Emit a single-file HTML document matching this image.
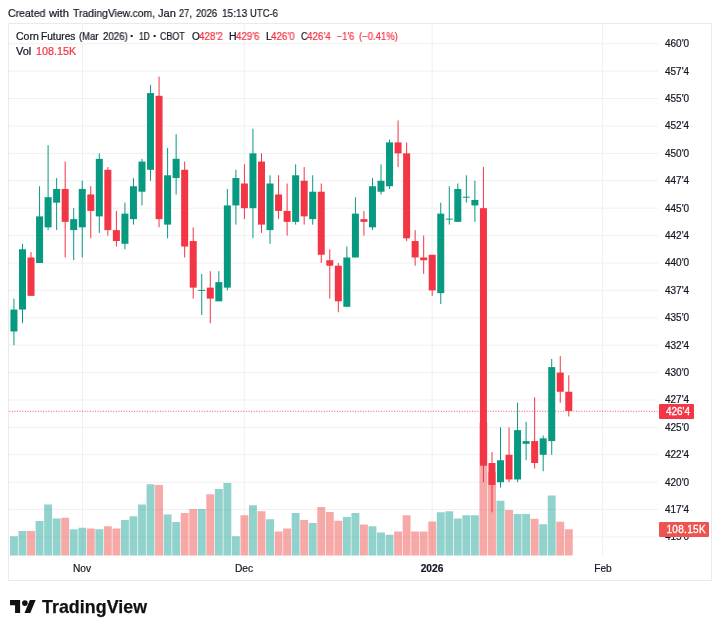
<!DOCTYPE html>
<html><head><meta charset="utf-8"><title>Corn Futures</title>
<style>
html,body{margin:0;padding:0;background:#fff;}
body{width:720px;height:633px;position:relative;overflow:hidden;font-family:"Liberation Sans",sans-serif;color:#131722;}
#hdr,.lg,.pl,.tl,.tag,#logot{will-change:transform;}
#hdr{position:absolute;left:8.3px;top:6px;font-size:11px;line-height:14px;white-space:nowrap;letter-spacing:-0.285px;color:#131722;}
#frame{position:absolute;left:8px;top:22.7px;width:704px;height:558px;border:1px solid #e9eaef;box-sizing:border-box;}
#chart{position:absolute;left:0;top:0;width:720px;height:633px;}
.sg{-webkit-text-stroke:0.22px currentColor;transform-origin:0 0;position:absolute;font-size:10px;line-height:13px;white-space:nowrap;color:#131722;will-change:transform;}
.sg.r{color:#F23645;}
.pl{-webkit-text-stroke:0.2px currentColor;position:absolute;left:665px;font-size:10px;line-height:14px;height:14px;white-space:nowrap;color:#131722;}
.tl{-webkit-text-stroke:0.2px currentColor;position:absolute;top:561.6px;font-size:10.2px;line-height:14px;white-space:nowrap;color:#131722;transform:translateX(-50%);}
.tag{position:absolute;left:658.9px;color:#fff;font-size:10px;line-height:15.6px;height:14.7px;padding-left:6.9px;-webkit-text-stroke:0.3px #fff;box-sizing:border-box;white-space:nowrap;border-radius:1px;}
#logo{position:absolute;left:10.2px;top:599.5px;}
#logot{position:absolute;left:42.1px;top:595.65px;font-size:17.8px;font-weight:bold;line-height:22px;letter-spacing:0.06px;color:#111;-webkit-text-stroke:0.25px #111;white-space:nowrap;}
</style></head><body>
<span class="sg" style="left:8.35px;top:6px;transform:scaleX(0.9568);font-size:11px;line-height:14px">Created</span>
<span class="sg" style="left:49.20px;top:6px;transform:scaleX(1.0198);font-size:11px;line-height:14px">with</span>
<span class="sg" style="left:72.50px;top:6px;transform:scaleX(0.9455);font-size:11px;line-height:14px">TradingView.com,</span>
<span class="sg" style="left:157.90px;top:6px;transform:scaleX(1.0085);font-size:11px;line-height:14px">Jan</span>
<span class="sg" style="left:179.20px;top:6px;transform:scaleX(0.8433);font-size:11px;line-height:14px">27,</span>
<span class="sg" style="left:196.30px;top:6px;transform:scaleX(0.8659);font-size:11px;line-height:14px">2026</span>
<span class="sg" style="left:221.50px;top:6px;transform:scaleX(0.9135);font-size:11px;line-height:14px">15:13</span>
<span class="sg" style="left:250.00px;top:6px;transform:scaleX(0.8614);font-size:11px;line-height:14px">UTC-6</span>
<div id="frame"></div>
<svg id="chart" width="720" height="633" viewBox="0 0 720 633" shape-rendering="auto">
<line x1="9" x2="658" y1="43.75" y2="43.75" stroke="#f0f0f2" stroke-width="1"/>
<line x1="9" x2="658" y1="71.15" y2="71.15" stroke="#f0f0f2" stroke-width="1"/>
<line x1="9" x2="658" y1="98.56" y2="98.56" stroke="#f0f0f2" stroke-width="1"/>
<line x1="9" x2="658" y1="125.96" y2="125.96" stroke="#f0f0f2" stroke-width="1"/>
<line x1="9" x2="658" y1="153.36" y2="153.36" stroke="#f0f0f2" stroke-width="1"/>
<line x1="9" x2="658" y1="180.76" y2="180.76" stroke="#f0f0f2" stroke-width="1"/>
<line x1="9" x2="658" y1="208.16" y2="208.16" stroke="#f0f0f2" stroke-width="1"/>
<line x1="9" x2="658" y1="235.57" y2="235.57" stroke="#f0f0f2" stroke-width="1"/>
<line x1="9" x2="658" y1="262.97" y2="262.97" stroke="#f0f0f2" stroke-width="1"/>
<line x1="9" x2="658" y1="290.37" y2="290.37" stroke="#f0f0f2" stroke-width="1"/>
<line x1="9" x2="658" y1="317.78" y2="317.78" stroke="#f0f0f2" stroke-width="1"/>
<line x1="9" x2="658" y1="345.18" y2="345.18" stroke="#f0f0f2" stroke-width="1"/>
<line x1="9" x2="658" y1="372.58" y2="372.58" stroke="#f0f0f2" stroke-width="1"/>
<line x1="9" x2="658" y1="399.98" y2="399.98" stroke="#f0f0f2" stroke-width="1"/>
<line x1="9" x2="658" y1="427.38" y2="427.38" stroke="#f0f0f2" stroke-width="1"/>
<line x1="9" x2="658" y1="454.79" y2="454.79" stroke="#f0f0f2" stroke-width="1"/>
<line x1="9" x2="658" y1="482.19" y2="482.19" stroke="#f0f0f2" stroke-width="1"/>
<line x1="9" x2="658" y1="509.59" y2="509.59" stroke="#f0f0f2" stroke-width="1"/>
<line x1="9" x2="658" y1="537.00" y2="537.00" stroke="#f0f0f2" stroke-width="1"/>
<line x1="82.50" x2="82.50" y1="23.5" y2="555.5" stroke="#f0f0f2" stroke-width="1"/>
<line x1="244.30" x2="244.30" y1="23.5" y2="555.5" stroke="#f0f0f2" stroke-width="1"/>
<line x1="432.10" x2="432.10" y1="23.5" y2="555.5" stroke="#f0f0f2" stroke-width="1"/>
<line x1="602.60" x2="602.60" y1="23.5" y2="555.5" stroke="#f0f0f2" stroke-width="1"/>
<rect x="10.00" y="536.25" width="7.9" height="19.25" fill="rgba(38,166,154,0.5)"/>
<rect x="18.54" y="531.00" width="7.9" height="24.50" fill="rgba(38,166,154,0.5)"/>
<rect x="27.07" y="531.00" width="7.9" height="24.50" fill="rgba(239,83,80,0.5)"/>
<rect x="35.61" y="521.00" width="7.9" height="34.50" fill="rgba(38,166,154,0.5)"/>
<rect x="44.14" y="504.50" width="7.9" height="51.00" fill="rgba(38,166,154,0.5)"/>
<rect x="52.68" y="518.50" width="7.9" height="37.00" fill="rgba(38,166,154,0.5)"/>
<rect x="61.22" y="517.75" width="7.9" height="37.75" fill="rgba(239,83,80,0.5)"/>
<rect x="69.75" y="529.25" width="7.9" height="26.25" fill="rgba(38,166,154,0.5)"/>
<rect x="78.29" y="527.75" width="7.9" height="27.75" fill="rgba(38,166,154,0.5)"/>
<rect x="86.82" y="528.50" width="7.9" height="27.00" fill="rgba(239,83,80,0.5)"/>
<rect x="95.36" y="529.25" width="7.9" height="26.25" fill="rgba(38,166,154,0.5)"/>
<rect x="103.90" y="526.25" width="7.9" height="29.25" fill="rgba(239,83,80,0.5)"/>
<rect x="112.43" y="528.50" width="7.9" height="27.00" fill="rgba(239,83,80,0.5)"/>
<rect x="120.97" y="520.00" width="7.9" height="35.50" fill="rgba(38,166,154,0.5)"/>
<rect x="129.50" y="516.25" width="7.9" height="39.25" fill="rgba(38,166,154,0.5)"/>
<rect x="138.04" y="504.50" width="7.9" height="51.00" fill="rgba(38,166,154,0.5)"/>
<rect x="146.58" y="484.25" width="7.9" height="71.25" fill="rgba(38,166,154,0.5)"/>
<rect x="155.11" y="485.00" width="7.9" height="70.50" fill="rgba(239,83,80,0.5)"/>
<rect x="163.65" y="514.50" width="7.9" height="41.00" fill="rgba(38,166,154,0.5)"/>
<rect x="172.18" y="522.00" width="7.9" height="33.50" fill="rgba(38,166,154,0.5)"/>
<rect x="180.72" y="513.00" width="7.9" height="42.50" fill="rgba(239,83,80,0.5)"/>
<rect x="189.26" y="509.00" width="7.9" height="46.50" fill="rgba(239,83,80,0.5)"/>
<rect x="197.79" y="509.00" width="7.9" height="46.50" fill="rgba(38,166,154,0.5)"/>
<rect x="206.33" y="494.25" width="7.9" height="61.25" fill="rgba(239,83,80,0.5)"/>
<rect x="214.86" y="489.00" width="7.9" height="66.50" fill="rgba(38,166,154,0.5)"/>
<rect x="223.40" y="483.00" width="7.9" height="72.50" fill="rgba(38,166,154,0.5)"/>
<rect x="231.94" y="536.25" width="7.9" height="19.25" fill="rgba(38,166,154,0.5)"/>
<rect x="240.47" y="515.25" width="7.9" height="40.25" fill="rgba(239,83,80,0.5)"/>
<rect x="249.01" y="505.25" width="7.9" height="50.25" fill="rgba(38,166,154,0.5)"/>
<rect x="257.54" y="511.25" width="7.9" height="44.25" fill="rgba(239,83,80,0.5)"/>
<rect x="266.08" y="519.25" width="7.9" height="36.25" fill="rgba(38,166,154,0.5)"/>
<rect x="274.62" y="531.50" width="7.9" height="24.00" fill="rgba(239,83,80,0.5)"/>
<rect x="283.15" y="528.50" width="7.9" height="27.00" fill="rgba(239,83,80,0.5)"/>
<rect x="291.69" y="513.00" width="7.9" height="42.50" fill="rgba(38,166,154,0.5)"/>
<rect x="300.22" y="520.00" width="7.9" height="35.50" fill="rgba(239,83,80,0.5)"/>
<rect x="308.76" y="523.00" width="7.9" height="32.50" fill="rgba(38,166,154,0.5)"/>
<rect x="317.30" y="507.00" width="7.9" height="48.50" fill="rgba(239,83,80,0.5)"/>
<rect x="325.83" y="512.00" width="7.9" height="43.50" fill="rgba(239,83,80,0.5)"/>
<rect x="334.37" y="520.75" width="7.9" height="34.75" fill="rgba(239,83,80,0.5)"/>
<rect x="342.90" y="517.00" width="7.9" height="38.50" fill="rgba(38,166,154,0.5)"/>
<rect x="351.44" y="513.00" width="7.9" height="42.50" fill="rgba(38,166,154,0.5)"/>
<rect x="359.98" y="524.50" width="7.9" height="31.00" fill="rgba(239,83,80,0.5)"/>
<rect x="368.51" y="526.25" width="7.9" height="29.25" fill="rgba(38,166,154,0.5)"/>
<rect x="377.05" y="532.50" width="7.9" height="23.00" fill="rgba(38,166,154,0.5)"/>
<rect x="385.58" y="534.75" width="7.9" height="20.75" fill="rgba(38,166,154,0.5)"/>
<rect x="394.12" y="531.50" width="7.9" height="24.00" fill="rgba(239,83,80,0.5)"/>
<rect x="402.66" y="515.25" width="7.9" height="40.25" fill="rgba(239,83,80,0.5)"/>
<rect x="411.19" y="531.50" width="7.9" height="24.00" fill="rgba(239,83,80,0.5)"/>
<rect x="419.73" y="531.50" width="7.9" height="24.00" fill="rgba(239,83,80,0.5)"/>
<rect x="428.26" y="521.50" width="7.9" height="34.00" fill="rgba(239,83,80,0.5)"/>
<rect x="436.80" y="512.25" width="7.9" height="43.25" fill="rgba(38,166,154,0.5)"/>
<rect x="445.34" y="511.25" width="7.9" height="44.25" fill="rgba(38,166,154,0.5)"/>
<rect x="453.87" y="518.50" width="7.9" height="37.00" fill="rgba(38,166,154,0.5)"/>
<rect x="462.41" y="515.25" width="7.9" height="40.25" fill="rgba(38,166,154,0.5)"/>
<rect x="470.94" y="515.25" width="7.9" height="40.25" fill="rgba(38,166,154,0.5)"/>
<rect x="479.48" y="423.00" width="7.9" height="132.50" fill="rgba(239,83,80,0.5)"/>
<rect x="488.02" y="472.00" width="7.9" height="83.50" fill="rgba(239,83,80,0.5)"/>
<rect x="496.55" y="500.75" width="7.9" height="54.75" fill="rgba(38,166,154,0.5)"/>
<rect x="505.09" y="510.00" width="7.9" height="45.50" fill="rgba(239,83,80,0.5)"/>
<rect x="513.62" y="514.00" width="7.9" height="41.50" fill="rgba(38,166,154,0.5)"/>
<rect x="522.16" y="514.00" width="7.9" height="41.50" fill="rgba(38,166,154,0.5)"/>
<rect x="530.70" y="518.75" width="7.9" height="36.75" fill="rgba(239,83,80,0.5)"/>
<rect x="539.23" y="524.25" width="7.9" height="31.25" fill="rgba(38,166,154,0.5)"/>
<rect x="547.77" y="495.50" width="7.9" height="60.00" fill="rgba(38,166,154,0.5)"/>
<rect x="556.30" y="521.75" width="7.9" height="33.75" fill="rgba(239,83,80,0.5)"/>
<rect x="564.84" y="529.25" width="7.9" height="26.25" fill="rgba(239,83,80,0.5)"/>
<line x1="9.3" x2="657.5" y1="411.25" y2="411.25" stroke="#F23645" stroke-width="1" stroke-dasharray="0.95 1.65" opacity="0.9"/>
<rect x="13.45" y="298.59" width="1" height="46.58" fill="#089981"/>
<rect x="10.45" y="309.55" width="7" height="21.92" fill="#089981"/>
<rect x="21.99" y="243.79" width="1" height="79.47" fill="#089981"/>
<rect x="18.99" y="249.27" width="7" height="60.29" fill="#089981"/>
<rect x="30.52" y="252.01" width="1" height="43.84" fill="#F23645"/>
<rect x="27.52" y="257.49" width="7" height="38.36" fill="#F23645"/>
<rect x="39.06" y="186.24" width="1" height="76.73" fill="#089981"/>
<rect x="36.06" y="216.39" width="7" height="46.58" fill="#089981"/>
<rect x="47.59" y="145.14" width="1" height="84.95" fill="#089981"/>
<rect x="44.59" y="197.20" width="7" height="30.14" fill="#089981"/>
<rect x="56.13" y="178.02" width="1" height="52.06" fill="#089981"/>
<rect x="53.13" y="188.98" width="7" height="13.70" fill="#089981"/>
<rect x="64.67" y="161.58" width="1" height="95.91" fill="#F23645"/>
<rect x="61.67" y="188.98" width="7" height="32.88" fill="#F23645"/>
<rect x="73.20" y="208.16" width="1" height="52.06" fill="#089981"/>
<rect x="70.20" y="219.13" width="7" height="10.96" fill="#089981"/>
<rect x="81.74" y="180.76" width="1" height="76.73" fill="#089981"/>
<rect x="78.74" y="188.98" width="7" height="38.36" fill="#089981"/>
<rect x="90.27" y="186.24" width="1" height="52.06" fill="#F23645"/>
<rect x="87.27" y="194.46" width="7" height="16.44" fill="#F23645"/>
<rect x="98.81" y="153.36" width="1" height="79.47" fill="#089981"/>
<rect x="95.81" y="158.84" width="7" height="57.55" fill="#089981"/>
<rect x="107.35" y="167.06" width="1" height="68.51" fill="#F23645"/>
<rect x="104.35" y="169.80" width="7" height="60.29" fill="#F23645"/>
<rect x="115.88" y="210.91" width="1" height="35.62" fill="#F23645"/>
<rect x="112.88" y="230.09" width="7" height="10.96" fill="#F23645"/>
<rect x="124.42" y="202.68" width="1" height="46.58" fill="#089981"/>
<rect x="121.42" y="213.65" width="7" height="30.14" fill="#089981"/>
<rect x="132.95" y="178.02" width="1" height="46.58" fill="#089981"/>
<rect x="129.95" y="186.24" width="7" height="32.88" fill="#089981"/>
<rect x="141.49" y="158.84" width="1" height="46.58" fill="#089981"/>
<rect x="138.49" y="161.58" width="7" height="30.14" fill="#089981"/>
<rect x="150.03" y="84.85" width="1" height="95.91" fill="#089981"/>
<rect x="147.03" y="93.07" width="7" height="76.73" fill="#089981"/>
<rect x="158.56" y="76.63" width="1" height="150.71" fill="#F23645"/>
<rect x="155.56" y="95.81" width="7" height="123.31" fill="#F23645"/>
<rect x="167.10" y="147.88" width="1" height="90.43" fill="#089981"/>
<rect x="164.10" y="175.28" width="7" height="49.32" fill="#089981"/>
<rect x="175.63" y="134.18" width="1" height="60.29" fill="#089981"/>
<rect x="172.63" y="158.84" width="7" height="19.18" fill="#089981"/>
<rect x="184.17" y="161.58" width="1" height="95.91" fill="#F23645"/>
<rect x="181.17" y="169.80" width="7" height="76.73" fill="#F23645"/>
<rect x="192.71" y="227.35" width="1" height="71.25" fill="#F23645"/>
<rect x="189.71" y="241.05" width="7" height="46.58" fill="#F23645"/>
<rect x="201.24" y="273.93" width="1" height="41.10" fill="#089981"/>
<rect x="198.24" y="289.87" width="7" height="1.00" fill="#089981"/>
<rect x="209.78" y="271.19" width="1" height="52.06" fill="#F23645"/>
<rect x="206.78" y="287.63" width="7" height="10.96" fill="#F23645"/>
<rect x="218.31" y="271.19" width="1" height="30.14" fill="#089981"/>
<rect x="215.31" y="282.15" width="7" height="19.18" fill="#089981"/>
<rect x="226.85" y="188.98" width="1" height="101.39" fill="#089981"/>
<rect x="223.85" y="205.42" width="7" height="82.21" fill="#089981"/>
<rect x="235.39" y="169.80" width="1" height="54.81" fill="#089981"/>
<rect x="232.39" y="178.02" width="7" height="27.40" fill="#089981"/>
<rect x="243.92" y="164.32" width="1" height="54.81" fill="#F23645"/>
<rect x="240.92" y="183.50" width="7" height="24.66" fill="#F23645"/>
<rect x="252.46" y="128.70" width="1" height="109.61" fill="#089981"/>
<rect x="249.46" y="153.36" width="7" height="54.80" fill="#089981"/>
<rect x="260.99" y="153.36" width="1" height="79.47" fill="#F23645"/>
<rect x="257.99" y="161.58" width="7" height="63.03" fill="#F23645"/>
<rect x="269.53" y="175.28" width="1" height="68.51" fill="#089981"/>
<rect x="266.53" y="183.50" width="7" height="46.58" fill="#089981"/>
<rect x="278.07" y="175.28" width="1" height="43.84" fill="#F23645"/>
<rect x="275.07" y="194.46" width="7" height="16.44" fill="#F23645"/>
<rect x="286.60" y="183.50" width="1" height="52.06" fill="#F23645"/>
<rect x="283.60" y="210.91" width="7" height="10.96" fill="#F23645"/>
<rect x="295.14" y="164.32" width="1" height="60.29" fill="#089981"/>
<rect x="292.14" y="175.28" width="7" height="46.58" fill="#089981"/>
<rect x="303.67" y="167.06" width="1" height="57.55" fill="#F23645"/>
<rect x="300.67" y="180.76" width="7" height="35.62" fill="#F23645"/>
<rect x="312.21" y="175.28" width="1" height="49.32" fill="#089981"/>
<rect x="309.21" y="191.72" width="7" height="27.40" fill="#089981"/>
<rect x="320.75" y="183.50" width="1" height="79.47" fill="#F23645"/>
<rect x="317.75" y="191.72" width="7" height="63.03" fill="#F23645"/>
<rect x="329.28" y="249.27" width="1" height="49.32" fill="#F23645"/>
<rect x="326.28" y="260.23" width="7" height="5.48" fill="#F23645"/>
<rect x="337.82" y="262.97" width="1" height="49.32" fill="#F23645"/>
<rect x="334.82" y="265.71" width="7" height="35.62" fill="#F23645"/>
<rect x="346.35" y="246.53" width="1" height="60.29" fill="#089981"/>
<rect x="343.35" y="257.49" width="7" height="49.32" fill="#089981"/>
<rect x="354.89" y="197.20" width="1" height="60.29" fill="#089981"/>
<rect x="351.89" y="213.65" width="7" height="43.84" fill="#089981"/>
<rect x="363.43" y="210.91" width="1" height="24.66" fill="#F23645"/>
<rect x="360.43" y="219.13" width="7" height="2.74" fill="#F23645"/>
<rect x="371.96" y="178.02" width="1" height="52.06" fill="#089981"/>
<rect x="368.96" y="186.24" width="7" height="41.10" fill="#089981"/>
<rect x="380.50" y="164.32" width="1" height="30.14" fill="#089981"/>
<rect x="377.50" y="180.76" width="7" height="10.96" fill="#089981"/>
<rect x="389.03" y="139.66" width="1" height="49.32" fill="#089981"/>
<rect x="386.03" y="142.40" width="7" height="43.84" fill="#089981"/>
<rect x="397.57" y="120.48" width="1" height="46.58" fill="#F23645"/>
<rect x="394.57" y="142.40" width="7" height="10.96" fill="#F23645"/>
<rect x="406.11" y="142.40" width="1" height="98.65" fill="#F23645"/>
<rect x="403.11" y="153.36" width="7" height="84.95" fill="#F23645"/>
<rect x="414.64" y="230.09" width="1" height="35.62" fill="#F23645"/>
<rect x="411.64" y="241.05" width="7" height="16.44" fill="#F23645"/>
<rect x="423.18" y="235.57" width="1" height="38.36" fill="#F23645"/>
<rect x="420.18" y="257.49" width="7" height="2.74" fill="#F23645"/>
<rect x="431.71" y="254.75" width="1" height="41.10" fill="#F23645"/>
<rect x="428.71" y="254.75" width="7" height="35.62" fill="#F23645"/>
<rect x="440.25" y="202.68" width="1" height="101.39" fill="#089981"/>
<rect x="437.25" y="213.65" width="7" height="79.47" fill="#089981"/>
<rect x="448.79" y="186.24" width="1" height="38.36" fill="#089981"/>
<rect x="445.79" y="218.63" width="7" height="1.00" fill="#089981"/>
<rect x="457.32" y="183.50" width="1" height="38.36" fill="#089981"/>
<rect x="454.32" y="188.98" width="7" height="32.88" fill="#089981"/>
<rect x="465.86" y="175.28" width="1" height="27.40" fill="#089981"/>
<rect x="462.86" y="196.70" width="7" height="1.00" fill="#089981"/>
<rect x="474.39" y="180.76" width="1" height="41.10" fill="#089981"/>
<rect x="471.39" y="199.94" width="7" height="5.48" fill="#089981"/>
<rect x="482.93" y="167.06" width="1" height="315.13" fill="#F23645"/>
<rect x="479.93" y="208.16" width="7" height="257.58" fill="#F23645"/>
<rect x="491.47" y="452.05" width="1" height="60.29" fill="#F23645"/>
<rect x="488.47" y="463.01" width="7" height="21.92" fill="#F23645"/>
<rect x="500.00" y="427.38" width="1" height="60.29" fill="#089981"/>
<rect x="497.00" y="460.27" width="7" height="21.92" fill="#089981"/>
<rect x="508.54" y="427.38" width="1" height="54.81" fill="#F23645"/>
<rect x="505.54" y="454.79" width="7" height="24.66" fill="#F23645"/>
<rect x="517.07" y="402.72" width="1" height="79.47" fill="#089981"/>
<rect x="514.07" y="430.13" width="7" height="49.32" fill="#089981"/>
<rect x="525.61" y="421.90" width="1" height="38.36" fill="#089981"/>
<rect x="522.61" y="441.09" width="7" height="2.74" fill="#089981"/>
<rect x="534.15" y="397.24" width="1" height="71.25" fill="#F23645"/>
<rect x="531.15" y="441.09" width="7" height="21.92" fill="#F23645"/>
<rect x="542.68" y="435.61" width="1" height="35.62" fill="#089981"/>
<rect x="539.68" y="438.35" width="7" height="16.44" fill="#089981"/>
<rect x="551.22" y="358.88" width="1" height="95.91" fill="#089981"/>
<rect x="548.22" y="367.10" width="7" height="73.99" fill="#089981"/>
<rect x="559.75" y="356.14" width="1" height="46.58" fill="#F23645"/>
<rect x="556.75" y="372.58" width="7" height="19.18" fill="#F23645"/>
<rect x="568.29" y="375.32" width="1" height="41.10" fill="#F23645"/>
<rect x="565.29" y="391.76" width="7" height="19.18" fill="#F23645"/>
</svg>
<span class="sg" style="left:15.60px;top:29.5px;transform:scaleX(1.0513);">Corn</span>
<span class="sg" style="left:40.60px;top:29.5px;transform:scaleX(1.0146);">Futures</span>
<span class="sg" style="left:79.00px;top:29.5px;transform:scaleX(0.9435);">(Mar</span>
<span class="sg" style="left:102.60px;top:29.5px;transform:scaleX(0.9696);">2026)</span>
<span class="sg" style="left:130.40px;top:29.5px;font-weight:bold;font-size:12px">·</span>
<span class="sg" style="left:139.00px;top:29.5px;transform:scaleX(0.8440);">1D</span>
<span class="sg" style="left:152.80px;top:29.5px;font-weight:bold;font-size:12px">·</span>
<span class="sg" style="left:160.20px;top:29.5px;transform:scaleX(0.8855);">CBOT</span>
<span class="sg" style="left:191.60px;top:29.5px;transform:scaleX(1.0024);">O</span>
<span class="sg r" style="left:198.90px;top:29.5px;transform:scaleX(0.9853);">428'2</span>
<span class="sg" style="left:229.00px;top:29.5px;transform:scaleX(1.0505);">H</span>
<span class="sg r" style="left:236.10px;top:29.5px;transform:scaleX(0.9728);">429'6</span>
<span class="sg" style="left:265.60px;top:29.5px;transform:scaleX(1.0427);">L</span>
<span class="sg r" style="left:271.10px;top:29.5px;transform:scaleX(0.9811);">426'0</span>
<span class="sg" style="left:300.60px;top:29.5px;transform:scaleX(0.9123);">C</span>
<span class="sg r" style="left:306.80px;top:29.5px;transform:scaleX(0.9853);">426'4</span>
<span class="sg r" style="left:337.20px;top:29.5px;transform:scaleX(0.9113);">−1'6</span>
<span class="sg r" style="left:358.60px;top:29.5px;transform:scaleX(0.9496);">(−0.41%)</span>
<span class="sg" style="left:15.60px;top:45px;transform:scaleX(1.1002);">Vol</span>
<span class="sg r" style="left:36.30px;top:45px;transform:scaleX(1.0761);">108.15K</span>
<div class="pl" style="top:37.15px">460'0</div>
<div class="pl" style="top:64.55px">457'4</div>
<div class="pl" style="top:91.96px">455'0</div>
<div class="pl" style="top:119.36px">452'4</div>
<div class="pl" style="top:146.76px">450'0</div>
<div class="pl" style="top:174.16px">447'4</div>
<div class="pl" style="top:201.56px">445'0</div>
<div class="pl" style="top:228.97px">442'4</div>
<div class="pl" style="top:256.37px">440'0</div>
<div class="pl" style="top:283.77px">437'4</div>
<div class="pl" style="top:311.18px">435'0</div>
<div class="pl" style="top:338.58px">432'4</div>
<div class="pl" style="top:365.98px">430'0</div>
<div class="pl" style="top:393.38px">427'4</div>
<div class="pl" style="top:420.78px">425'0</div>
<div class="pl" style="top:448.19px">422'4</div>
<div class="pl" style="top:475.59px">420'0</div>
<div class="pl" style="top:502.99px">417'4</div>
<div class="pl" style="top:530.39px">415'0</div>
<div class="tag" style="top:403.9px;width:35px;background:#F23645;">426'4</div>
<div class="tag" style="top:522.2px;width:49.9px;background:#EF5350;letter-spacing:0.33px;padding-left:7.4px">108.15K</div>
<div class="tl" style="left:82px">Nov</div>
<div class="tl" style="left:244.3px">Dec</div>
<div class="tl" style="left:432px;font-weight:bold">2026</div>
<div class="tl" style="left:602.5px">Feb</div>
<svg id="logo" width="26" height="13.2" preserveAspectRatio="none" viewBox="0 4 36 18"><path fill="#111" d="M14 22H7V11H0V4h14v18zM28 22h-8l7.5-18h8L28 22z"/><circle fill="#111" cx="20.6" cy="8.2" r="3.9"/></svg>
<div id="logot">TradingView</div>
</body></html>
